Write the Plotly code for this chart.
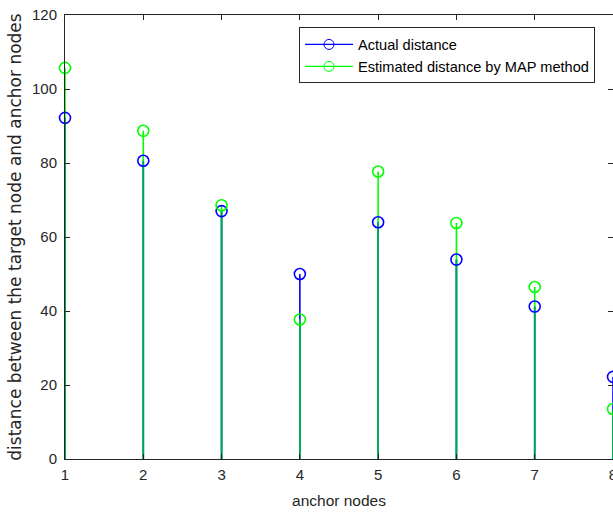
import plotly.graph_objects as go

nodes = [1, 2, 3, 4, 5, 6, 7, 8]
actual = [92.2, 80.6, 67.0, 50.0, 64.0, 53.9, 41.2, 22.2]
estimated = [105.7, 88.7, 68.6, 37.7, 77.7, 63.8, 46.5, 13.5]

BLUE = "#0000FF"
GREEN = "#00FF00"
MIX = "#00A060"
FONT = "Liberation Sans, Arial, sans-serif"
TXT = "#262626"


def stems(xs, tops):
    sx, sy = [], []
    for x, t in zip(xs, tops):
        sx += [x, x, None]
        sy += [0, t, None]
    return sx, sy


fig = go.Figure()

bx, by = stems(nodes, actual)
gx, gy = stems(nodes, estimated)
mx, my = stems(nodes, [min(a, e) for a, e in zip(actual, estimated)])

for sx, sy, col in [(bx, by, BLUE), (gx, gy, GREEN), (mx, my, MIX)]:
    fig.add_trace(go.Scatter(x=sx, y=sy, mode="lines", line=dict(color=col, width=1.6),
                             showlegend=False, hoverinfo="skip"))

fig.add_trace(go.Scatter(x=nodes, y=actual, mode="markers", cliponaxis=False,
                         marker=dict(symbol="circle-open", size=11, color=BLUE, line=dict(width=1.6)),
                         showlegend=False))
fig.add_trace(go.Scatter(x=nodes, y=estimated, mode="markers", cliponaxis=False,
                         marker=dict(symbol="circle-open", size=11, color=GREEN, line=dict(width=1.6)),
                         showlegend=False))

# legend entries
fig.add_trace(go.Scatter(x=[None], y=[None], mode="lines+markers", name="Actual distance",
                         line=dict(color=BLUE, width=1.2),
                         marker=dict(symbol="circle-open", size=10, color=BLUE)))
fig.add_trace(go.Scatter(x=[None], y=[None], mode="lines+markers", name="Estimated distance by MAP method",
                         line=dict(color=GREEN, width=1.2),
                         marker=dict(symbol="circle-open", size=10, color=GREEN)))

axis_common = dict(showgrid=False, zeroline=False, showline=True, linecolor=TXT, linewidth=1,
                   ticks="inside", ticklen=5, tickcolor=TXT, mirror="ticks", automargin=False,
                   ticklabeloverflow="allow",
                   tickfont=dict(family=FONT, size=15, color=TXT))

fig.update_layout(
    width=613, height=512,
    margin=dict(l=65, r=0, t=15, b=53),
    paper_bgcolor="white", plot_bgcolor="white",
    font=dict(family=FONT, size=15, color=TXT),
    xaxis=dict(range=[1, 8], tickvals=nodes, ticktext=[str(n) for n in nodes],
               title=dict(text="anchor nodes", font=dict(family=FONT, size=15.5, color=TXT), standoff=13),
               ticklabelstandoff=2,
               **axis_common),
    yaxis=dict(range=[0, 120], tickvals=[0, 20, 40, 60, 80, 100, 120],
               title=dict(text="distance between the target node and anchor nodes",
                          font=dict(family="DejaVu Sans, sans-serif", size=17, color=TXT), standoff=6),
               ticklabelstandoff=4,
               **axis_common),
    legend=dict(x=0.427, y=0.972, xanchor="left", yanchor="top",
                bgcolor="white", bordercolor=TXT, borderwidth=1,
                font=dict(family=FONT, size=14.6, color="#000000"),
                tracegroupgap=0, itemwidth=48),
)

fig.write_html("out.html", config={"displayModeBar": False},
               post_script="document.body.style.margin='0';document.body.style.overflow='hidden';")
